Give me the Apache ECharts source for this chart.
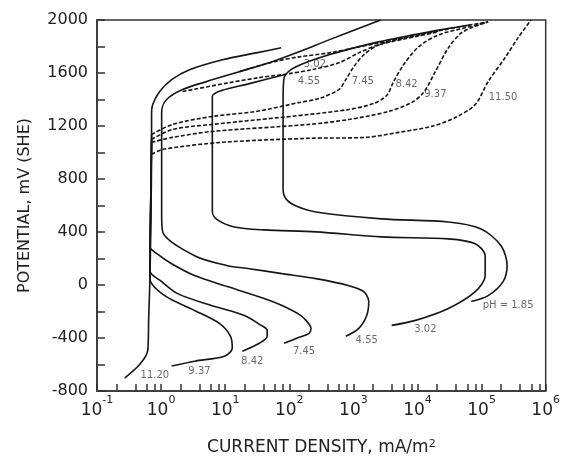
<!DOCTYPE html>
<html>
<head>
<meta charset="utf-8">
<title>Polarization curves</title>
<script src="https://cdn.jsdelivr.net/npm/echarts@6/dist/echarts.min.js"></script>
<style>
  html, body { margin: 0; padding: 0; background: #fff; }
  #main { width: 563px; height: 463px; }
</style>
</head>
<body>
<div id="main"></div>
<script>
// [current density mA/m2, potential mV(SHE)]
var ph185 = [[69000,-125],[126500,-80],[216300,26],[250000,146],[201400,296],[98600,423],[30300,476],[2760,499],[261,551],[128,596],[89,649],[80,724],[80,1024],[80,1400],[83,1565],[119,1640],[415,1737],[2480,1835],[14800,1910],[66500,1962]];
var ph302 = [[3950,-305],[9310,-267],[30300,-177],[79600,-50],[113700,71],[113700,221],[79600,311],[30300,348],[2760,363],[261,401],[40.6,416],[13.9,438],[7.6,491],[6.3,551],[6.3,1024],[6.3,1422],[8.7,1467],[23.8,1520],[83,1587]];
var ph455 = [[762,-387],[1214,-327],[1615,-230],[1735,-125],[1450,-50],[849,-5],[261,48],[77,86],[23.8,123],[10.8,146],[3.33,221],[1.06,401],[1.02,536],[1.02,1024],[1.02,1310],[1.22,1400],[2.16,1475],[5.1,1535],[16.6,1610],[54,1685],[142,1760],[415,1850],[2660,2000]];
var ph745 = [[83,-440],[142,-395],[203,-365],[218,-327],[182,-267],[142,-222],[77,-155],[40.6,-102],[10.8,-12],[3.33,71],[1.46,160],[0.86,236],[0.67,288],[0.69,649],[0.71,1136]];
var ph842 = [[18.5,-500],[34,-440],[45.2,-387],[45.2,-342],[36.5,-305],[19.9,-230],[6.1,-155],[1.81,-65],[1.02,26],[0.67,108],[0.69,649],[0.71,1099]];
var ph937 = [[1.46,-612],[3.33,-575],[9.7,-537],[12.9,-477],[12.1,-387],[8.1,-290],[3.33,-192],[1.14,-80],[0.67,48],[0.69,649],[0.71,1077]];
var ph1120 = [[0.27,-703],[0.47,-597],[0.62,-492],[0.64,-252],[0.67,48],[0.69,423],[0.71,986],[0.71,1287],[0.74,1362],[0.95,1460],[1.46,1550],[2.78,1625],[9.1,1700],[30.5,1752],[74.6,1790]];

// dashed (transpassive) parts
var ph302Dash = [[16.6,1610],[58,1685],[142,1722],[415,1752],[1214,1797],[2480,1827],[10370,1887],[43300,1947],[126500,1985]];
var ph455Dash = [[2.16,1460],[3.1,1475],[11.6,1527],[34,1565],[99,1595],[226,1625],[593,1677],[1214,1752],[2480,1812],[10370,1880],[21200,1910]];
var ph745Dash = [[0.71,1136],[1.51,1212],[6.3,1272],[30.5,1310],[142,1377],[290,1407],[593,1475],[762,1550],[1015,1647],[1450,1737],[2480,1812],[7250,1872],[21200,1917]];
var ph842Dash = [[0.71,1099],[1.51,1174],[6.3,1212],[203,1287],[849,1325],[2075,1370],[3300,1430],[4240,1535],[6060,1662],[10370,1797],[21200,1887],[62000,1947],[126500,1985]];
var ph937Dash = [[0.71,1077],[1.51,1114],[6.3,1159],[203,1212],[849,1249],[3550,1310],[8070,1377],[12400,1452],[19000,1610],[30300,1790],[48200,1902],[74100,1947],[126500,1985]];
var ph1150Dash = [[0.71,986],[1.06,1024],[9.1,1077],[203,1107],[1560,1114],[5070,1152],[16500,1197],[38900,1264],[79600,1362],[126500,1535],[232300,1715],[370000,1865],[589000,2000]];

var curveLabels = [
  [259000,-155,'pH = 1.85'],
  [13300,-334,'3.02'],
  [1615,-417,'4.55'],
  [170,-500,'7.45'],
  [26.4,-575,'8.42'],
  [3.97,-650,'9.37'],
  [0.8,-680,'11.20'],
  [251,1662,'3.02'],
  [203,1535,'4.55'],
  [1400,1535,'7.45'],
  [6750,1512,'8.42'],
  [19000,1437,'9.37'],
  [216300,1415,'11.50']
];

var xExponents = [-1, 0, 1, 2, 3, 4, 5, 6];
var minorMultipliers = [1, 2, 4, 6, 8];

var tickLogs = [];
xExponents.forEach(function (e) {
  minorMultipliers.forEach(function (m) {
    var v = e + Math.log10(m);
    if (v <= 6.0001) tickLogs.push(v);
  });
});

var lineColor = '#151515';
var axisColor = '#333';

function solid(data) {
  return {
    type: 'line', data: data, xAxisIndex: 0, yAxisIndex: 0,
    showSymbol: false, smooth: 0.3, silent: true,
    lineStyle: { color: lineColor, width: 1.6 }
  };
}
function dashed(data) {
  return {
    type: 'line', data: data, xAxisIndex: 0, yAxisIndex: 0,
    showSymbol: false, smooth: 0.3, silent: true,
    lineStyle: { color: lineColor, width: 1.6, type: [4, 2] }
  };
}

var series = [
  solid(ph185), solid(ph302), solid(ph455), solid(ph745),
  solid(ph842), solid(ph937), solid(ph1120),
  dashed(ph302Dash), dashed(ph455Dash), dashed(ph745Dash),
  dashed(ph842Dash), dashed(ph937Dash), dashed(ph1150Dash),
  {
    type: 'scatter', data: curveLabels, symbolSize: 0, silent: true,
    xAxisIndex: 0, yAxisIndex: 0,
    label: {
      show: true, position: 'inside', color: '#444',
      fontFamily: 'DejaVu Sans', fontSize: 10,
      formatter: function (p) { return p.data[2]; }
    }
  }
];

var chart = echarts.init(document.getElementById('main'));
chart.setOption({
  animation: false,
  backgroundColor: '#fff',
  grid: {
    left: 97, right: 15, top: 20, bottom: 70,
    show: true, borderColor: axisColor, borderWidth: 1.5
  },
  xAxis: [{
    type: 'log', min: 0.1, max: 1000000, interval: 1, position: 'bottom',
    name: 'CURRENT DENSITY, mA/m{s|2}',
    nameLocation: 'middle', nameGap: 48,
    nameTextStyle: {
      fontFamily: 'DejaVu Sans', fontSize: 17, color: '#222',
      rich: { s: { fontSize: 11, verticalAlign: 'top', lineHeight: 12, padding: [0, 0, 8, 0] } }
    },
    axisLine: { onZero: false, lineStyle: { color: axisColor, width: 1.5 } },
    axisTick: { show: false },
    splitLine: { show: false },
    axisLabel: {
      margin: 4, color: '#222',
      formatter: function (v) {
        return '{b|10}{s|' + Math.round(Math.log10(v)) + '}';
      },
      rich: {
        b: { fontFamily: 'DejaVu Sans', fontSize: 17, color: '#222', lineHeight: 24, verticalAlign: 'bottom' },
        s: { fontFamily: 'DejaVu Sans', fontSize: 11, color: '#222', lineHeight: 12, verticalAlign: 'top' }
      }
    }
  }, {
    type: 'value', min: -1, max: 6, position: 'bottom',
    axisLine: { show: false, onZero: false },
    splitLine: { show: false },
    axisLabel: { show: false },
    axisTick: {
      show: true, inside: true, length: 7, customValues: tickLogs,
      lineStyle: { color: axisColor, width: 1.5 }
    }
  }],
  yAxis: {
    type: 'value', min: -800, max: 2000, interval: 400,
    name: 'POTENTIAL, mV (SHE)', nameLocation: 'middle', nameGap: 64,
    nameTextStyle: { fontFamily: 'DejaVu Sans', fontSize: 16, color: '#222' },
    axisLine: { show: true, onZero: false, lineStyle: { color: axisColor, width: 1.5 } },
    axisTick: { show: true, inside: true, length: 8, lineStyle: { color: axisColor, width: 1.5 } },
    minorTick: { show: true, splitNumber: 2, length: 8, lineStyle: { color: axisColor, width: 1.5 } },
    splitLine: { show: false },
    axisLabel: {
      margin: 9, fontFamily: 'DejaVu Sans', fontSize: 16, color: '#222',
      formatter: function (v) { return String(v); }
    }
  },
  series: series
});
</script>
</body>
</html>
